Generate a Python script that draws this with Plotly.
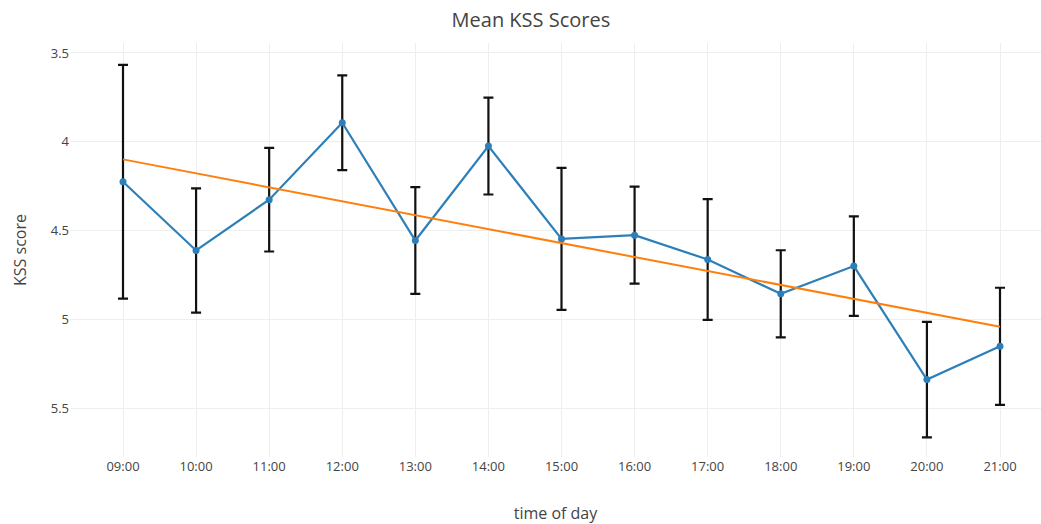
import numpy as np
import plotly.graph_objects as go

# Hourly time slots
hours = ["09:00", "10:00", "11:00", "12:00", "13:00", "14:00", "15:00",
         "16:00", "17:00", "18:00", "19:00", "20:00", "21:00"]

# Mean KSS score per slot and its error (half-width)
kss_mean = [4.225, 4.612, 4.326, 3.893, 4.556, 4.024, 4.547,
            4.526, 4.663, 4.856, 4.700, 5.339, 5.152]
kss_err = [0.658, 0.350, 0.292, 0.267, 0.300, 0.273, 0.400,
           0.273, 0.340, 0.245, 0.280, 0.325, 0.330]

x_idx = np.arange(len(hours))

# Least-squares linear trend through the means
slope, intercept = np.polyfit(x_idx, kss_mean, 1)
trend_x = [x_idx[0], x_idx[-1]]
trend_y = [intercept + slope * x_idx[0], intercept + slope * x_idx[-1]]

fig = go.Figure()

fig.add_trace(go.Scatter(
    x=x_idx, y=kss_mean,
    mode="lines+markers",
    line=dict(color="#2c7fb8", width=2.2),
    marker=dict(color="#2c7fb8", size=7),
    error_y=dict(type="data", array=kss_err, visible=True,
                 color="#111111", thickness=2.2, width=5),
    showlegend=False,
))

fig.add_trace(go.Scatter(
    x=trend_x, y=trend_y,
    mode="lines",
    line=dict(color="#ff7f0e", width=2),
    showlegend=False,
))

fig.update_layout(
    width=1041, height=524,
    margin=dict(l=70, r=0, t=43, b=67),
    paper_bgcolor="white", plot_bgcolor="white",
    font=dict(family="Open Sans", color="#444", size=13),
    title=dict(text="Mean KSS Scores", x=0.51, xref="container",
               y=0.962, yref="container", yanchor="middle",
               font=dict(size=20, color="#444")),
    xaxis=dict(
        title=dict(text="time of day", font=dict(size=16), standoff=34),
        tickmode="array", tickvals=list(x_idx), ticktext=hours,
        range=[-0.7252, 12.561],
        showgrid=True, gridcolor="#eeeeee", gridwidth=1,
        zeroline=False, showline=False, ticks="",
    ),
    yaxis=dict(
        title=dict(text="KSS score", font=dict(size=16), standoff=20),
        range=[5.775, 3.444],
        tickvals=[3.5, 4, 4.5, 5, 5.5],
        ticktext=["3.5", "4", "4.5", "5", "5.5"],
        showgrid=True, gridcolor="#eeeeee", gridwidth=1,
        zeroline=False, showline=False, ticks="",
    ),
)

fig.write_html("out.html")
